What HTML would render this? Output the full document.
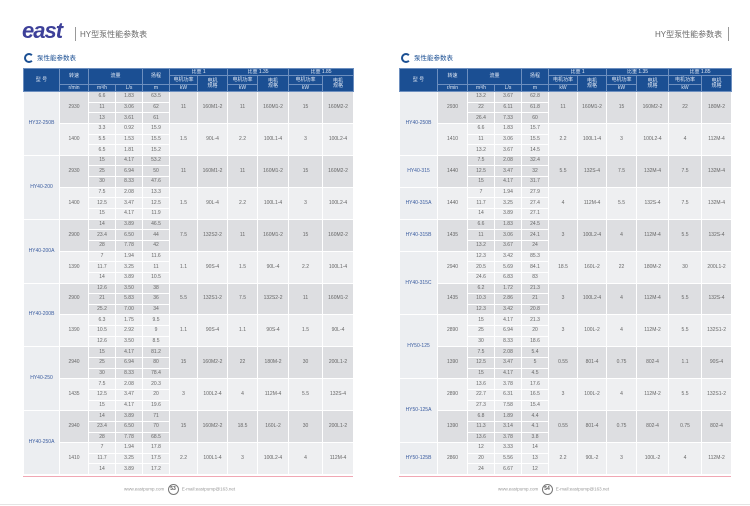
<!DOCTYPE html>
<html><head><meta charset="utf-8"><style>
body{margin:0;width:750px;height:506px;background:#fff;position:relative;overflow:hidden;font-family:"Liberation Sans","Noto Sans CJK SC",sans-serif}
.logo{position:absolute;left:22px;top:18px;font:italic bold 22px "Liberation Sans",sans-serif;color:#3d4099;letter-spacing:-1px}
.ttl{position:absolute;top:29px;font-size:8px;color:#6a6a6a;font-family:"Liberation Sans","Noto Sans CJK SC",sans-serif}
.bar{position:absolute;top:27px;width:1px;height:14px;background:#999}
.sec{position:absolute;top:52px;font-size:6.5px;color:#1b4f93}
.sec i{display:inline-block;width:6px;height:6px;border:2px solid #1b4f93;border-right-color:transparent;border-radius:50%;vertical-align:middle;margin-right:3px}
table{position:absolute;top:68px;border-collapse:collapse;table-layout:fixed;font-size:5px;color:#666;text-align:center}
td{border:1px solid #fff;padding:0;line-height:5px;overflow:hidden;white-space:nowrap}
thead td{background:#1b4f93;color:#dfe7f3;border-color:#6d8fbf;font-size:5px}
thead tr.a td{height:6px}thead tr.b td{height:8px}thead tr.c td{height:6px}
tbody tr{height:10.65px}
tr.g td{background:#dddee1}tr.l td{background:#eeeff1}
td.t{background:#eceef1!important;color:#3b5da0}
.foot{position:absolute;top:484px;font-size:4.5px;color:#999}
.foot b{display:inline-block;width:9px;height:9px;border:1px solid #777;border-radius:50%;font-size:5px;color:#555;line-height:9px;text-align:center;vertical-align:middle;margin:0 2px}
.pk{position:absolute;top:476px;height:1px;background:#f0a7b4}
</style></head><body>
<div class="logo">east</div><div class="bar" style="left:75px"></div>
<div class="ttl" style="left:80px">HY型泵性能参数表</div>
<div class="ttl" style="left:655px">HY型泵性能参数表</div><div class="bar" style="left:728px"></div>
<div class="sec" style="left:24px"><i></i>泵性能参数表</div>
<div class="sec" style="left:401px"><i></i>泵性能参数表</div>

<table style="left:23px;width:330px">
<colgroup><col style="width:36px"><col style="width:29px"><col style="width:27px"><col style="width:27px"><col style="width:27px"><col style="width:28px"><col style="width:30px"><col style="width:30px"><col style="width:31px"><col style="width:34px"><col style="width:31px"></colgroup>
<thead><tr class="a"><td rowspan="3">型 号</td><td rowspan="2">转速</td><td rowspan="2" colspan="2">流量</td><td rowspan="2">扬程</td><td colspan="2">比重 1</td><td colspan="2">比重 1.35</td><td colspan="2">比重 1.85</td></tr>
<tr class="b"><td>电机功率</td><td rowspan="2">电机<br>规格</td><td>电机功率</td><td rowspan="2">电机<br>规格</td><td>电机功率</td><td rowspan="2">电机<br>规格</td></tr>
<tr class="c"><td>r/min</td><td>m³/h</td><td>L/s</td><td>m</td><td>kW</td><td>kW</td><td>kW</td></tr></thead>
<tbody>
<tr class="g"><td class="t" rowspan="6">HY32-250B</td><td rowspan="3">2930</td><td>6.6</td><td>1.83</td><td>63.5</td><td rowspan="3">11</td><td rowspan="3">160M1-2</td><td rowspan="3">11</td><td rowspan="3">160M1-2</td><td rowspan="3">15</td><td rowspan="3">160M2-2</td></tr>
<tr class="g"><td>11</td><td>3.06</td><td>62</td></tr><tr class="g"><td>13</td><td>3.61</td><td>61</td></tr>
<tr class="l"><td rowspan="3">1400</td><td>3.3</td><td>0.92</td><td>15.9</td><td rowspan="3">1.5</td><td rowspan="3">90L-4</td><td rowspan="3">2.2</td><td rowspan="3">100L1-4</td><td rowspan="3">3</td><td rowspan="3">100L2-4</td></tr>
<tr class="l"><td>5.5</td><td>1.53</td><td>15.5</td></tr><tr class="l"><td>6.5</td><td>1.81</td><td>15.2</td></tr>
<tr class="g"><td class="t" rowspan="6">HY40-200</td><td rowspan="3">2930</td><td>15</td><td>4.17</td><td>53.2</td><td rowspan="3">11</td><td rowspan="3">160M1-2</td><td rowspan="3">11</td><td rowspan="3">160M1-2</td><td rowspan="3">15</td><td rowspan="3">160M2-2</td></tr>
<tr class="g"><td>25</td><td>6.94</td><td>50</td></tr><tr class="g"><td>30</td><td>8.33</td><td>47.6</td></tr>
<tr class="l"><td rowspan="3">1400</td><td>7.5</td><td>2.08</td><td>13.3</td><td rowspan="3">1.5</td><td rowspan="3">90L-4</td><td rowspan="3">2.2</td><td rowspan="3">100L1-4</td><td rowspan="3">3</td><td rowspan="3">100L2-4</td></tr>
<tr class="l"><td>12.5</td><td>3.47</td><td>12.5</td></tr><tr class="l"><td>15</td><td>4.17</td><td>11.9</td></tr>
<tr class="g"><td class="t" rowspan="6">HY40-200A</td><td rowspan="3">2900</td><td>14</td><td>3.89</td><td>46.5</td><td rowspan="3">7.5</td><td rowspan="3">132S2-2</td><td rowspan="3">11</td><td rowspan="3">160M1-2</td><td rowspan="3">15</td><td rowspan="3">160M2-2</td></tr>
<tr class="g"><td>23.4</td><td>6.50</td><td>44</td></tr><tr class="g"><td>28</td><td>7.78</td><td>42</td></tr>
<tr class="l"><td rowspan="3">1390</td><td>7</td><td>1.94</td><td>11.6</td><td rowspan="3">1.1</td><td rowspan="3">90S-4</td><td rowspan="3">1.5</td><td rowspan="3">90L-4</td><td rowspan="3">2.2</td><td rowspan="3">100L1-4</td></tr>
<tr class="l"><td>11.7</td><td>3.25</td><td>11</td></tr><tr class="l"><td>14</td><td>3.89</td><td>10.5</td></tr>
<tr class="g"><td class="t" rowspan="6">HY40-200B</td><td rowspan="3">2900</td><td>12.6</td><td>3.50</td><td>38</td><td rowspan="3">5.5</td><td rowspan="3">132S1-2</td><td rowspan="3">7.5</td><td rowspan="3">132S2-2</td><td rowspan="3">11</td><td rowspan="3">160M1-2</td></tr>
<tr class="g"><td>21</td><td>5.83</td><td>36</td></tr><tr class="g"><td>25.2</td><td>7.00</td><td>34</td></tr>
<tr class="l"><td rowspan="3">1390</td><td>6.3</td><td>1.75</td><td>9.5</td><td rowspan="3">1.1</td><td rowspan="3">90S-4</td><td rowspan="3">1.1</td><td rowspan="3">90S-4</td><td rowspan="3">1.5</td><td rowspan="3">90L-4</td></tr>
<tr class="l"><td>10.5</td><td>2.92</td><td>9</td></tr><tr class="l"><td>12.6</td><td>3.50</td><td>8.5</td></tr>
<tr class="g"><td class="t" rowspan="6">HY40-250</td><td rowspan="3">2940</td><td>15</td><td>4.17</td><td>81.2</td><td rowspan="3">15</td><td rowspan="3">160M2-2</td><td rowspan="3">22</td><td rowspan="3">180M-2</td><td rowspan="3">30</td><td rowspan="3">200L1-2</td></tr>
<tr class="g"><td>25</td><td>6.94</td><td>80</td></tr><tr class="g"><td>30</td><td>8.33</td><td>78.4</td></tr>
<tr class="l"><td rowspan="3">1435</td><td>7.5</td><td>2.08</td><td>20.3</td><td rowspan="3">3</td><td rowspan="3">100L2-4</td><td rowspan="3">4</td><td rowspan="3">112M-4</td><td rowspan="3">5.5</td><td rowspan="3">132S-4</td></tr>
<tr class="l"><td>12.5</td><td>3.47</td><td>20</td></tr><tr class="l"><td>15</td><td>4.17</td><td>19.6</td></tr>
<tr class="g"><td class="t" rowspan="6">HY40-250A</td><td rowspan="3">2940</td><td>14</td><td>3.89</td><td>71</td><td rowspan="3">15</td><td rowspan="3">160M2-2</td><td rowspan="3">18.5</td><td rowspan="3">160L-2</td><td rowspan="3">30</td><td rowspan="3">200L1-2</td></tr>
<tr class="g"><td>23.4</td><td>6.50</td><td>70</td></tr><tr class="g"><td>28</td><td>7.78</td><td>68.5</td></tr>
<tr class="l"><td rowspan="3">1410</td><td>7</td><td>1.94</td><td>17.8</td><td rowspan="3">2.2</td><td rowspan="3">100L1-4</td><td rowspan="3">3</td><td rowspan="3">100L2-4</td><td rowspan="3">4</td><td rowspan="3">112M-4</td></tr>
<tr class="l"><td>11.7</td><td>3.25</td><td>17.5</td></tr><tr class="l"><td>14</td><td>3.89</td><td>17.2</td></tr>
</tbody></table>

<table style="left:399px;width:332px">
<colgroup><col style="width:38px"><col style="width:30px"><col style="width:27px"><col style="width:27px"><col style="width:27px"><col style="width:29px"><col style="width:29px"><col style="width:30px"><col style="width:32px"><col style="width:33px"><col style="width:30px"></colgroup>
<thead><tr class="a"><td rowspan="3">型 号</td><td rowspan="2">转速</td><td rowspan="2" colspan="2">流量</td><td rowspan="2">扬程</td><td colspan="2">比重 1</td><td colspan="2">比重 1.35</td><td colspan="2">比重 1.85</td></tr>
<tr class="b"><td>电机功率</td><td rowspan="2">电机<br>规格</td><td>电机功率</td><td rowspan="2">电机<br>规格</td><td>电机功率</td><td rowspan="2">电机<br>规格</td></tr>
<tr class="c"><td>r/min</td><td>m³/h</td><td>L/s</td><td>m</td><td>kW</td><td>kW</td><td>kW</td></tr></thead>
<tbody>
<tr class="g"><td class="t" rowspan="6">HY40-250B</td><td rowspan="3">2930</td><td>13.2</td><td>3.67</td><td>62.8</td><td rowspan="3">11</td><td rowspan="3">160M1-2</td><td rowspan="3">15</td><td rowspan="3">160M2-2</td><td rowspan="3">22</td><td rowspan="3">180M-2</td></tr>
<tr class="g"><td>22</td><td>6.11</td><td>61.8</td></tr><tr class="g"><td>26.4</td><td>7.33</td><td>60</td></tr>
<tr class="l"><td rowspan="3">1410</td><td>6.6</td><td>1.83</td><td>15.7</td><td rowspan="3">2.2</td><td rowspan="3">100L1-4</td><td rowspan="3">3</td><td rowspan="3">100L2-4</td><td rowspan="3">4</td><td rowspan="3">112M-4</td></tr>
<tr class="l"><td>11</td><td>3.06</td><td>15.5</td></tr><tr class="l"><td>13.2</td><td>3.67</td><td>14.5</td></tr>
<tr class="g"><td class="t" rowspan="3">HY40-315</td><td rowspan="3">1440</td><td>7.5</td><td>2.08</td><td>32.4</td><td rowspan="3">5.5</td><td rowspan="3">132S-4</td><td rowspan="3">7.5</td><td rowspan="3">132M-4</td><td rowspan="3">7.5</td><td rowspan="3">132M-4</td></tr>
<tr class="g"><td>12.5</td><td>3.47</td><td>32</td></tr><tr class="g"><td>15</td><td>4.17</td><td>31.7</td></tr>
<tr class="l"><td class="t" rowspan="3">HY40-315A</td><td rowspan="3">1440</td><td>7</td><td>1.94</td><td>27.9</td><td rowspan="3">4</td><td rowspan="3">112M-4</td><td rowspan="3">5.5</td><td rowspan="3">132S-4</td><td rowspan="3">7.5</td><td rowspan="3">132M-4</td></tr>
<tr class="l"><td>11.7</td><td>3.25</td><td>27.4</td></tr><tr class="l"><td>14</td><td>3.89</td><td>27.1</td></tr>
<tr class="g"><td class="t" rowspan="3">HY40-315B</td><td rowspan="3">1435</td><td>6.6</td><td>1.83</td><td>24.5</td><td rowspan="3">3</td><td rowspan="3">100L2-4</td><td rowspan="3">4</td><td rowspan="3">112M-4</td><td rowspan="3">5.5</td><td rowspan="3">132S-4</td></tr>
<tr class="g"><td>11</td><td>3.06</td><td>24.1</td></tr><tr class="g"><td>13.2</td><td>3.67</td><td>24</td></tr>
<tr class="l"><td class="t" rowspan="6">HY40-315C</td><td rowspan="3">2940</td><td>12.3</td><td>3.42</td><td>85.3</td><td rowspan="3">18.5</td><td rowspan="3">160L-2</td><td rowspan="3">22</td><td rowspan="3">180M-2</td><td rowspan="3">30</td><td rowspan="3">200L1-2</td></tr>
<tr class="l"><td>20.5</td><td>5.69</td><td>84.1</td></tr><tr class="l"><td>24.6</td><td>6.83</td><td>83</td></tr>
<tr class="g"><td rowspan="3">1435</td><td>6.2</td><td>1.72</td><td>21.3</td><td rowspan="3">3</td><td rowspan="3">100L2-4</td><td rowspan="3">4</td><td rowspan="3">112M-4</td><td rowspan="3">5.5</td><td rowspan="3">132S-4</td></tr>
<tr class="g"><td>10.3</td><td>2.86</td><td>21</td></tr><tr class="g"><td>12.3</td><td>3.42</td><td>20.8</td></tr>
<tr class="l"><td class="t" rowspan="6">HY50-125</td><td rowspan="3">2890</td><td>15</td><td>4.17</td><td>21.3</td><td rowspan="3">3</td><td rowspan="3">100L-2</td><td rowspan="3">4</td><td rowspan="3">112M-2</td><td rowspan="3">5.5</td><td rowspan="3">132S1-2</td></tr>
<tr class="l"><td>25</td><td>6.94</td><td>20</td></tr><tr class="l"><td>30</td><td>8.33</td><td>18.6</td></tr>
<tr class="g"><td rowspan="3">1390</td><td>7.5</td><td>2.08</td><td>5.4</td><td rowspan="3">0.55</td><td rowspan="3">801-4</td><td rowspan="3">0.75</td><td rowspan="3">802-4</td><td rowspan="3">1.1</td><td rowspan="3">90S-4</td></tr>
<tr class="g"><td>12.5</td><td>3.47</td><td>5</td></tr><tr class="g"><td>15</td><td>4.17</td><td>4.5</td></tr>
<tr class="l"><td class="t" rowspan="6">HY50-125A</td><td rowspan="3">2890</td><td>13.6</td><td>3.78</td><td>17.6</td><td rowspan="3">3</td><td rowspan="3">100L-2</td><td rowspan="3">4</td><td rowspan="3">112M-2</td><td rowspan="3">5.5</td><td rowspan="3">132S1-2</td></tr>
<tr class="l"><td>22.7</td><td>6.31</td><td>16.5</td></tr><tr class="l"><td>27.3</td><td>7.58</td><td>15.4</td></tr>
<tr class="g"><td rowspan="3">1390</td><td>6.8</td><td>1.89</td><td>4.4</td><td rowspan="3">0.55</td><td rowspan="3">801-4</td><td rowspan="3">0.75</td><td rowspan="3">802-4</td><td rowspan="3">0.75</td><td rowspan="3">802-4</td></tr>
<tr class="g"><td>11.3</td><td>3.14</td><td>4.1</td></tr><tr class="g"><td>13.6</td><td>3.78</td><td>3.8</td></tr>
<tr class="l"><td class="t" rowspan="3">HY50-125B</td><td rowspan="3">2860</td><td>12</td><td>3.33</td><td>14</td><td rowspan="3">2.2</td><td rowspan="3">90L-2</td><td rowspan="3">3</td><td rowspan="3">100L-2</td><td rowspan="3">4</td><td rowspan="3">112M-2</td></tr>
<tr class="l"><td>20</td><td>5.56</td><td>13</td></tr><tr class="l"><td>24</td><td>6.67</td><td>12</td></tr>
</tbody></table>

<div class="pk" style="left:23px;width:330px"></div>
<div class="pk" style="left:399px;width:332px"></div>
<div class="foot" style="left:124px">www.eastpump.com <b>53</b> E-mail:eastpump@163.net</div>
<div class="foot" style="left:498px">www.eastpump.com <b>54</b> E-mail:eastpump@163.net</div>
<div style="position:absolute;left:0;top:504px;width:750px;height:1px;background:#e4e4e4"></div>
</body></html>
